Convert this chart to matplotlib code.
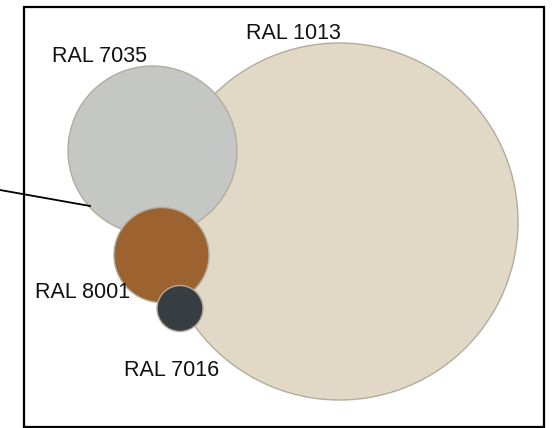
import matplotlib
matplotlib.use('Agg')
from matplotlib import pyplot as plt
from matplotlib.patches import Circle, Rectangle

# bubble data (pixel-like units)
names = ['RAL 1013', 'RAL 7035', 'RAL 8001', 'RAL 7016']
cx = [339.5, 152.5, 161.5, 180.0]
cy = [221.5, 150.5, 255.0, 308.5]
radius = [178.5, 84.5, 47.5, 23.0]
colors = ['#E2D8C6', '#C5C7C4', '#9C6230', '#383D41']
label_x = [293, 100, 83, 172]
label_y = [33, 56, 293, 370]

plt.rcParams['font.family'] = ['Liberation Sans', 'DejaVu Sans']

fig = plt.figure(figsize=(5.56, 4.28), dpi=100)
ax = fig.add_axes([0, 0, 1, 1])
ax.set_xlim(0, 556)
ax.set_ylim(428, 0)
ax.set_aspect('equal')
ax.axis('off')

# frame
ax.add_patch(Rectangle((23.5, 7.3), 520.2, 419.7, fill=False, ec='black', lw=1.6, zorder=1))

for i in range(len(names)):
    ax.add_patch(Circle((cx[i], cy[i]), radius[i], fc=colors[i], ec='#B3AC9E', lw=1.0, zorder=2 + i))
    ax.text(label_x[i], label_y[i], names[i], ha='center', va='center', fontsize=15.5, color='#111111', zorder=10)

# leader line
ax.plot([0, 90], [190, 206], color='black', lw=1.3, zorder=10)

plt.savefig('out.png', dpi=100)
